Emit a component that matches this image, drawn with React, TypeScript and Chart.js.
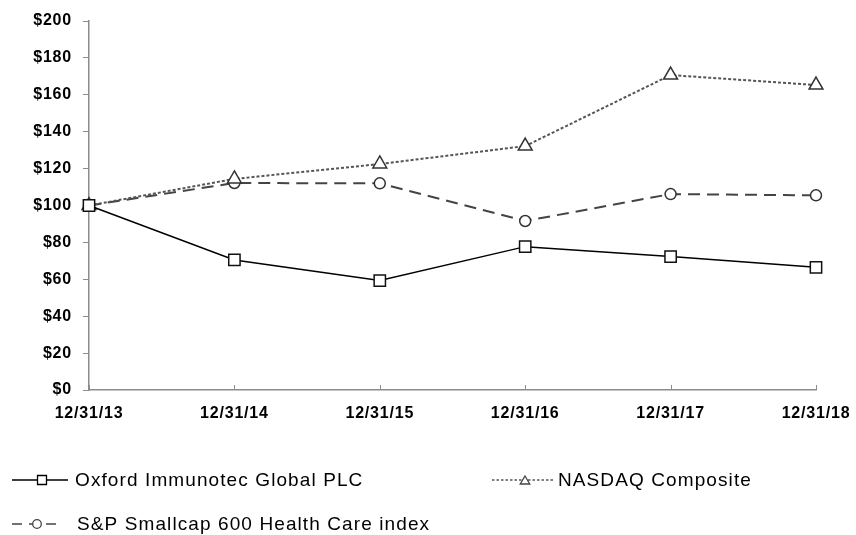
import React, { useEffect, useRef } from 'react';
import { Chart, registerables } from 'chart.js';

Chart.register(...registerables);

const categories = ['12/31/13', '12/31/14', '12/31/15', '12/31/16', '12/31/17', '12/31/18'];
const oxford = [100, 70.5, 59.3, 77.7, 72.3, 66.5];
const nasdaq = [100, 114.4, 122.5, 132.2, 170.7, 165.3];
const spHealth = [100, 112.2, 112.0, 91.6, 106.2, 105.5];
const seriesNames = ['Oxford Immunotec Global PLC', 'NASDAQ Composite', 'S&P Smallcap 600 Health Care index'];
const yMin = 0;
const yMax = 200;
const yStep = 20;

const FONT = '"Liberation Sans", Arial, sans-serif';
const AXIS = '#8c8c8c';

const spacingPlugin = {
  id: 'spacing',
  beforeDraw(chart: any) {
    chart.ctx.letterSpacing = '0.8px';
  },
  afterDraw(chart: any) {
    chart.ctx.letterSpacing = '0px';
  },
};

function marker(ctx: CanvasRenderingContext2D, kind: string, x: number, y: number, r: number, color: string) {
  ctx.save();
  ctx.setLineDash([]);
  ctx.strokeStyle = color;
  ctx.fillStyle = '#fff';
  ctx.lineWidth = 1.3;
  ctx.beginPath();
  if (kind === 'rect') {
    ctx.rect(x - r, y - r, 2 * r, 2 * r);
  } else if (kind === 'circle') {
    ctx.arc(x, y, r, 0, Math.PI * 2);
  } else {
    ctx.moveTo(x, y - r);
    ctx.lineTo(x + r * 0.95, y + r * 0.6);
    ctx.lineTo(x - r * 0.95, y + r * 0.6);
    ctx.closePath();
  }
  ctx.fill();
  ctx.stroke();
  ctx.restore();
}

const extrasPlugin = {
  id: 'extras',
  afterDraw(chart: any) {
    const ctx: CanvasRenderingContext2D = chart.ctx;
    const xs = chart.scales.x;
    const area = chart.chartArea;
    // inward tick marks on category axis
    ctx.save();
    ctx.strokeStyle = AXIS;
    ctx.lineWidth = 1;
    for (let i = 0; i < categories.length; i++) {
      const px = Math.round(xs.getPixelForTick(i)) + 0.5;
      ctx.beginPath();
      ctx.moveTo(px, area.bottom);
      ctx.lineTo(px, area.bottom - 5);
      ctx.stroke();
    }
    ctx.restore();

    // legend
    ctx.save();
    ctx.font = `19px ${FONT}`;
    (ctx as any).letterSpacing = '1.1px';
    ctx.textBaseline = 'middle';
    ctx.fillStyle = '#000';

    // item 1
    ctx.strokeStyle = '#000';
    ctx.lineWidth = 1.5;
    ctx.setLineDash([]);
    ctx.beginPath();
    ctx.moveTo(12, 480);
    ctx.lineTo(68, 480);
    ctx.stroke();
    marker(ctx, 'rect', 42, 480, 4.5, '#000');
    ctx.fillText(seriesNames[0], 75, 481);

    // item 2
    ctx.strokeStyle = '#555';
    ctx.lineWidth = 1.5;
    ctx.setLineDash([2.5, 2]);
    ctx.beginPath();
    ctx.moveTo(492, 480);
    ctx.lineTo(555, 480);
    ctx.stroke();
    marker(ctx, 'triangle', 525, 481, 5, '#444');
    ctx.fillText(seriesNames[1], 558, 481);

    // item 3
    ctx.strokeStyle = '#444';
    ctx.lineWidth = 1.5;
    ctx.setLineDash([10, 7]);
    ctx.beginPath();
    ctx.moveTo(12, 524);
    ctx.lineTo(62, 524);
    ctx.stroke();
    marker(ctx, 'circle', 37, 524, 4.3, '#444');
    ctx.fillText(seriesNames[2], 77, 525);
    ctx.restore();
  },
};

export default function App() {
  const ref = useRef<HTMLCanvasElement | null>(null);

  useEffect(() => {
    if (!ref.current) return;
    const chart = new Chart(ref.current, {
      type: 'line',
      data: {
        labels: categories,
        datasets: [
          {
            label: seriesNames[0],
            data: oxford,
            borderColor: '#000',
            borderWidth: 1.5,
            pointStyle: 'rect',
            pointRadius: 8,
            pointBorderWidth: 1.5,
            pointBorderColor: '#111',
            pointBackgroundColor: '#fff',
            tension: 0,
          },
          {
            label: seriesNames[1],
            data: nasdaq,
            borderColor: '#555',
            borderWidth: 2,
            borderDash: [3, 2],
            pointStyle: 'triangle',
            pointRadius: 8,
            pointBorderWidth: 1.5,
            pointBorderColor: '#333',
            pointBackgroundColor: '#fff',
            tension: 0,
          },
          {
            label: seriesNames[2],
            data: spHealth,
            borderColor: '#444',
            borderWidth: 2,
            borderDash: [12, 7],
            pointStyle: 'circle',
            pointRadius: 5.5,
            pointBorderWidth: 1.5,
            pointBorderColor: '#333',
            pointBackgroundColor: '#fff',
            tension: 0,
          },
        ],
      },
      options: {
        animation: false,
        responsive: false,
        maintainAspectRatio: false,
        layout: { padding: { left: 0, right: 40, top: 21, bottom: 105 } },
        plugins: {
          legend: { display: false },
          tooltip: { enabled: false },
        },
        scales: {
          x: {
            type: 'category',
            offset: false,
            grid: { display: true, drawOnChartArea: false, drawTicks: false },
            border: { color: AXIS, width: 1.5 },
            ticks: {
              color: '#000',
              font: { family: FONT, size: 16, weight: 'bold' },
              padding: 14,
              maxRotation: 0,
              autoSkip: false,
            },
            afterFit: (s: any) => {
              s.height = 40;
              s.paddingRight = 0;
              s.paddingLeft = 0;
            },
          },
          y: {
            min: yMin,
            max: yMax,
            grid: { display: true, drawOnChartArea: false, drawTicks: true, tickLength: 6, color: AXIS },
            border: { color: AXIS, width: 1.5 },
            ticks: {
              stepSize: yStep,
              color: '#000',
              font: { family: FONT, size: 16, weight: 'bold' },
              padding: 11,
              callback: (v: any) => '$' + v,
            },
            afterFit: (s: any) => {
              s.width = 89;
            },
          },
        },
      },
      plugins: [spacingPlugin, extrasPlugin],
    });
    return () => chart.destroy();
  }, []);

  return (
    <div style={{ position: 'fixed', left: 0, top: 0, width: 856, height: 535, background: '#fff' }}>
      <canvas ref={ref} width={856} height={535} style={{ display: 'block', width: 856, height: 535 }} />
    </div>
  );
}
